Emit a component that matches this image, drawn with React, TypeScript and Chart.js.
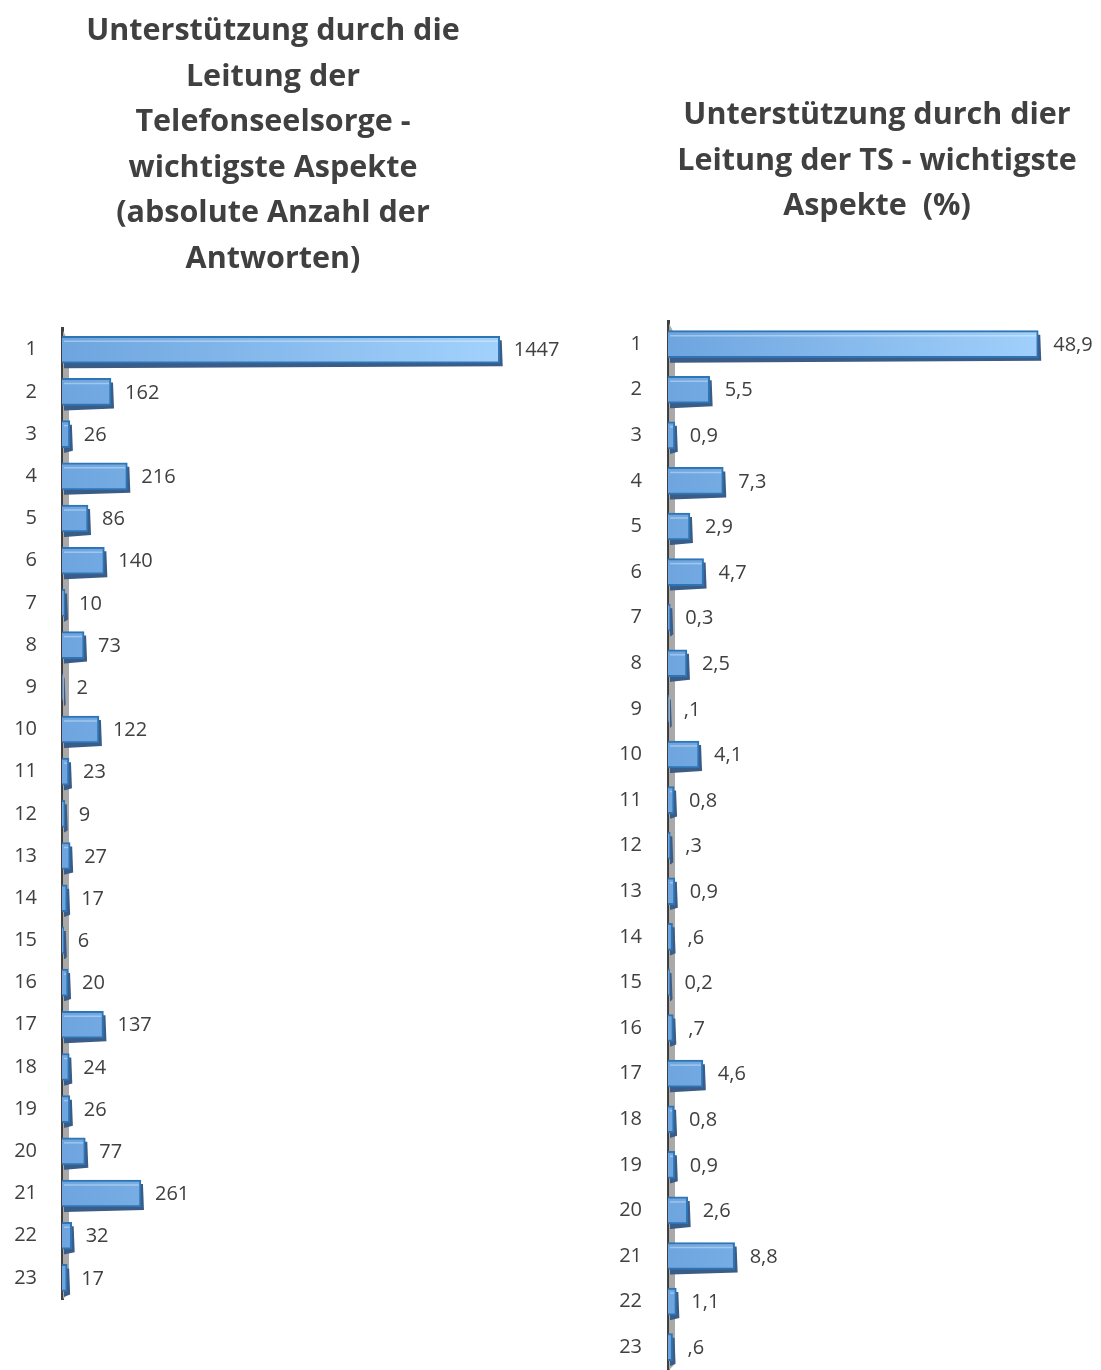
import React, { useEffect, useRef } from 'react';
import { Chart, registerables } from 'chart.js';

Chart.register(...registerables);

const categories = ['1', '2', '3', '4', '5', '6', '7', '8', '9', '10', '11', '12', '13', '14', '15', '16', '17', '18', '19', '20', '21', '22', '23'];

const absoluteCounts = [1447, 162, 26, 216, 86, 140, 10, 73, 2, 122, 23, 9, 27, 17, 6, 20, 137, 24, 26, 77, 261, 32, 17];
const absoluteLabels = ['1447', '162', '26', '216', '86', '140', '10', '73', '2', '122', '23', '9', '27', '17', '6', '20', '137', '24', '26', '77', '261', '32', '17'];

const percentValues = [48.9, 5.5, 0.9, 7.3, 2.9, 4.7, 0.3, 2.5, 0.1, 4.1, 0.8, 0.3, 0.9, 0.6, 0.2, 0.7, 4.6, 0.8, 0.9, 2.6, 8.8, 1.1, 0.6];
const percentLabels = ['48,9', '5,5', '0,9', '7,3', '2,9', '4,7', '0,3', '2,5', ',1', '4,1', '0,8', ',3', '0,9', ',6', '0,2', ',7', '4,6', '0,8', '0,9', '2,6', '8,8', '1,1', ',6'];

const leftTitle = ['Unterstützung durch die', 'Leitung der', 'Telefonseelsorge -', 'wichtigste Aspekte', '(absolute Anzahl der', 'Antworten)'];
const rightTitle = ['Unterstützung durch dier', 'Leitung der TS - wichtigste', 'Aspekte  (%)'];

const FONT = '"Open Sans", "DejaVu Sans", sans-serif';
const TEXT = '#404040';

type Cfg = {
  values: number[];
  labels: string[];
  title: string[];
  max: number;
  width: number;
  height: number;
  titleTop: number;
  titleBottom: number;
  titleShift: number;
  padRight: number;
  padBottom: number;
  axisWidth: number;
  tickPad: number;
  labelGap: number;
};

function makePlugin(labels: string[], gap: number, titleShift: number) {
  return {
    id: 'bar3d',
    afterLayout(chart: any) {
      if (chart.titleBlock && titleShift) {
        chart.titleBlock.left = chart.titleBlock.left + titleShift;
      }
    },
    beforeDatasetsDraw(chart: any) {
      const { ctx, chartArea } = chart;
      ctx.save();
      ctx.fillStyle = '#a9a9a9';
      ctx.beginPath();
      ctx.moveTo(chartArea.left + 1, chartArea.top + 2);
      ctx.lineTo(chartArea.left + 7, chartArea.top + 14);
      ctx.lineTo(chartArea.left + 7, chartArea.bottom - 6);
      ctx.lineTo(chartArea.left + 1, chartArea.bottom);
      ctx.closePath();
      ctx.fill();
      const meta = chart.getDatasetMeta(0);
      ctx.fillStyle = '#3a5c86';
      meta.data.forEach((bar: any) => {
        const p = bar.getProps(['x', 'y', 'base', 'height'], true);
        const top = p.y - p.height / 2;
        ctx.beginPath();
        ctx.moveTo(p.base + 2, top + 4);
        ctx.lineTo(p.x + 2, top + 4);
        ctx.lineTo(p.x + 3, top + p.height + 3);
        ctx.lineTo(p.base + 3, top + p.height + 5);
        ctx.lineTo(p.base + 2, top + p.height + 5);
        ctx.closePath();
        ctx.fill();
      });
      ctx.restore();
    },
    afterDatasetsDraw(chart: any) {
      const { ctx } = chart;
      const meta = chart.getDatasetMeta(0);
      ctx.save();
      meta.data.forEach((bar: any, i: number) => {
        const p = bar.getProps(['x', 'y', 'base', 'height'], true);
        const top = p.y - p.height / 2;
        if (p.x - p.base > 6) {
          ctx.strokeStyle = 'rgba(255,255,255,0.35)';
          ctx.lineWidth = 1.5;
          ctx.beginPath();
          ctx.moveTo(p.base + 2, top + 5);
          ctx.lineTo(p.x - 2, top + 5);
          ctx.stroke();
        }
        ctx.fillStyle = TEXT;
        ctx.font = '20px ' + FONT;
        ctx.textAlign = 'left';
        ctx.textBaseline = 'middle';
        ctx.fillText(labels[i], p.x + gap, p.y + 1);
      });
      ctx.restore();
    },
  };
}

function BarChart({ cfg }: { cfg: Cfg }) {
  const ref = useRef<HTMLCanvasElement | null>(null);
  useEffect(() => {
    if (!ref.current) return;
    const chart = new Chart(ref.current, {
      type: 'bar',
      data: {
        labels: categories,
        datasets: [
          {
            data: cfg.values,
            barThickness: 27,
            backgroundColor: (c: any) => {
              const area = c.chart.chartArea;
              if (!area) return '#7fb2e5';
              const g = c.chart.ctx.createLinearGradient(area.left, 0, area.right, 0);
              g.addColorStop(0, '#6ea5df');
              g.addColorStop(1, '#a8d6ff');
              return g;
            },
            borderColor: '#2e75b6',
            borderWidth: 2,
          },
        ],
      },
      options: {
        indexAxis: 'y',
        responsive: false,
        animation: false,
        devicePixelRatio: 1,
        layout: { padding: { left: 0, right: cfg.padRight, top: 0, bottom: cfg.padBottom } },
        plugins: {
          legend: { display: false },
          tooltip: { enabled: false },
          title: {
            display: true,
            text: cfg.title,
            color: TEXT,
            font: { family: FONT, size: 30.5, weight: 'bold', lineHeight: 1.49 },
            padding: { top: cfg.titleTop, bottom: cfg.titleBottom },
          },
        },
        scales: {
          x: { display: false, min: 0, max: cfg.max },
          y: {
            grid: { display: false, drawTicks: false },
            border: { display: true, color: '#404040', width: 3 },
            ticks: { color: TEXT, font: { family: FONT, size: 20 }, padding: cfg.tickPad },
            afterFit: (s: any) => {
              s.width = cfg.axisWidth;
              s.paddingTop = 0;
              s.paddingBottom = 0;
            },
          },
        },
      },
      plugins: [makePlugin(cfg.labels, cfg.labelGap, cfg.titleShift)],
    } as any);
    return () => chart.destroy();
  }, []);
  return <canvas ref={ref} width={cfg.width} height={cfg.height} style={{ display: 'block' }} />;
}

const leftCfg: Cfg = {
  values: absoluteCounts,
  labels: absoluteLabels,
  title: leftTitle,
  max: 1600,
  width: 560,
  height: 1370,
  titleTop: 9,
  titleBottom: 47,
  titleShift: 0,
  padRight: 14,
  padBottom: 71,
  axisWidth: 62,
  tickPad: 25,
  labelGap: 14,
};

const rightCfg: Cfg = {
  values: percentValues,
  labels: percentLabels,
  title: rightTitle,
  max: 56,
  width: 501,
  height: 1370,
  titleTop: 93,
  titleBottom: 92,
  titleShift: 62,
  padRight: 9,
  padBottom: 0,
  axisWidth: 68,
  tickPad: 26,
  labelGap: 15,
};

export default function App() {
  return (
    <div style={{ position: 'absolute', left: 0, top: 0, width: 1101, height: 1370, background: '#fff', overflow: 'hidden' }}>
      <div style={{ position: 'absolute', left: 0, top: 0 }}>
        <BarChart cfg={leftCfg} />
      </div>
      <div style={{ position: 'absolute', left: 600, top: 0 }}>
        <BarChart cfg={rightCfg} />
      </div>
    </div>
  );
}
